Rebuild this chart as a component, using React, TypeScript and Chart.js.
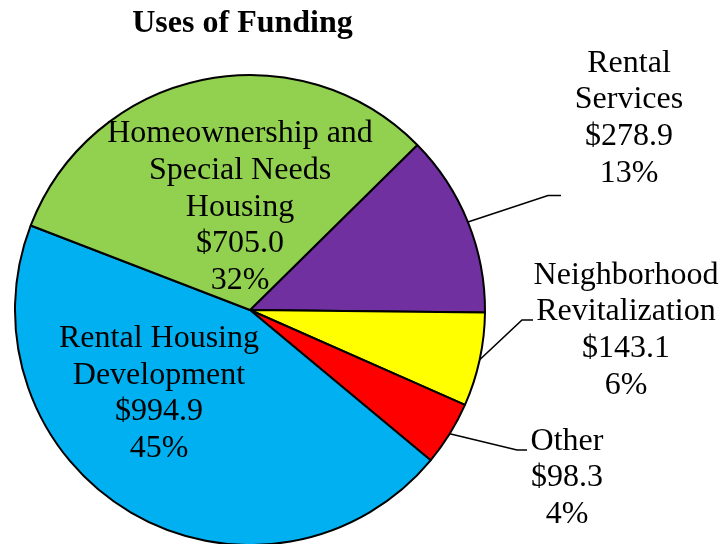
import React, { useEffect, useRef } from "react";
import { Chart, registerables } from "chart.js";

Chart.register(...registerables);

// ---- Data ----
const categories = [
  "Rental Services",
  "Neighborhood Revitalization",
  "Other",
  "Rental Housing Development",
  "Homeownership and Special Needs Housing",
];
const categoryLines = [
  ["Rental", "Services"],
  ["Neighborhood", "Revitalization"],
  ["Other"],
  ["Rental Housing", "Development"],
  ["Homeownership and", "Special Needs", "Housing"],
];
const amounts = [278.9, 143.1, 98.3, 994.9, 705.0];
const sliceColors = ["#7030A0", "#FFFF00", "#FF0000", "#00B0F0", "#92D050"];
const chartTitle = "Uses of Funding";

// ---- Layout (label placement, not data) ----
const FONT = "'Liberation Serif', 'Times New Roman', serif";
const LINE_H = 36.7;
const labelLayout = [
  { x: 629, y: 71.7, leader: [[548, 195.5], [561, 195.5]] },
  { x: 626, y: 283.5, leader: [[522, 320], [533, 320]] },
  { x: 567, y: 449.5, leader: [[517, 450], [527, 450]] },
  { x: 159, y: 347, leader: null },
  { x: 240, y: 142.3, leader: null },
];

const total = amounts.reduce((a, b) => a + b, 0);

const labelPlugin = {
  id: "sliceLabels",
  afterDatasetsDraw(chart: any) {
    const ctx = chart.ctx as CanvasRenderingContext2D;
    const meta = chart.getDatasetMeta(0);
    ctx.save();
    // title
    ctx.fillStyle = "#000";
    ctx.font = `bold 32px ${FONT}`;
    ctx.textAlign = "center";
    ctx.textBaseline = "alphabetic";
    ctx.fillText(chartTitle, 242.5, 32);

    meta.data.forEach((arc: any, i: number) => {
      const p = arc.getProps(["x", "y", "startAngle", "endAngle", "outerRadius"], true);
      const lay = labelLayout[i];
      if (lay.leader) {
        const mid = (p.startAngle + p.endAngle) / 2;
        const sx = p.x + Math.cos(mid) * p.outerRadius;
        const sy = p.y + Math.sin(mid) * p.outerRadius;
        ctx.beginPath();
        ctx.moveTo(sx, sy);
        lay.leader.forEach((pt: number[]) => ctx.lineTo(pt[0], pt[1]));
        ctx.strokeStyle = "#000";
        ctx.lineWidth = 1.6;
        ctx.stroke();
      }
      const lines = [
        ...categoryLines[i],
        "$" + amounts[i].toFixed(1),
        Math.round((amounts[i] / total) * 100) + "%",
      ];
      ctx.font = `32px ${FONT}`;
      ctx.fillStyle = "#000";
      ctx.textAlign = "center";
      lines.forEach((t, k) => ctx.fillText(t, lay.x, lay.y + k * LINE_H));
    });
    ctx.restore();
  },
};

export default function App() {
  const ref = useRef<HTMLCanvasElement | null>(null);
  useEffect(() => {
    if (!ref.current) return;
    const chart = new Chart(ref.current, {
      type: "pie",
      data: {
        labels: categories,
        datasets: [
          {
            data: amounts,
            backgroundColor: sliceColors,
            borderColor: "#000000",
            borderWidth: 2,
            clip: false as any,
          } as any,
        ],
      },
      options: {
        animation: false,
        responsive: false,
        events: [],
        rotation: 45.4,
        radius: 235,
        layout: { padding: { left: 0, right: 223, top: 76, bottom: 0 } },
        plugins: {
          legend: { display: false },
          title: { display: false },
          tooltip: { enabled: false },
        },
      } as any,
      plugins: [labelPlugin],
    });
    return () => chart.destroy();
  }, []);
  return (
    <div style={{ position: "absolute", left: 0, top: 0, width: 723, height: 544, overflow: "hidden", background: "#fff" }}>
      <canvas ref={ref} width={723} height={544} />
    </div>
  );
}
